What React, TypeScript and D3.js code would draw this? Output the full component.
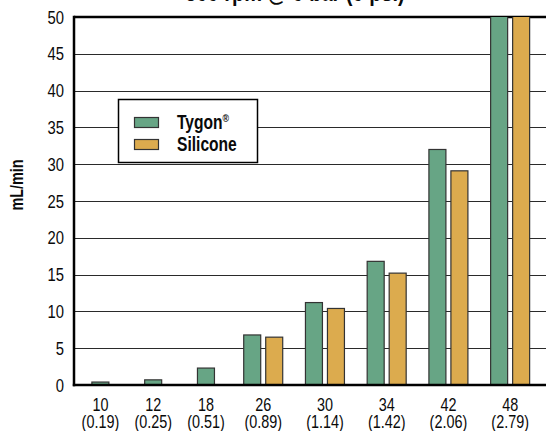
import React from "react";
import * as d3 from "d3";

const title = "300 rpm @ 0 bar (0 psi)";
const speeds = ["10", "12", "18", "26", "30", "34", "42", "48"];
const sublabels = ["(0.19)", "(0.25)", "(0.51)", "(0.89)", "(1.14)", "(1.42)", "(2.06)", "(2.79)"];
const tygon: (number | null)[] = [0.4, 0.7, 2.3, 6.8, 11.2, 16.8, 32.0, 58];
const silicone: (number | null)[] = [null, null, null, 6.5, 10.4, 15.2, 29.1, 56];
const yTicks = [0, 5, 10, 15, 20, 25, 30, 35, 40, 45, 50];
const seriesNames = ["Tygon", "Silicone"];
const colors = ["#67a585", "#dcab4e"];

const W = 546;
const H = 431;
const left = 74;
const top = 17;
const bottom = 385;
const right = 546;

const font = "'Liberation Sans', Arial, sans-serif";
const SX = 0.8;

function T(props: {
  x: number;
  y: number;
  size: number;
  anchor?: string;
  bold?: boolean;
  dy?: string;
  rotate?: number;
  children: React.ReactNode;
}) {
  const { x, y, size, anchor = "start", bold = false, dy, rotate = 0, children } = props;
  return (
    <text
      transform={`translate(${x},${y}) rotate(${rotate}) scale(${SX},1)`}
      dy={dy}
      textAnchor={anchor}
      fontFamily={font}
      fontWeight={bold ? "bold" : "normal"}
      fontSize={size}
      fill="#0a0a0a"
    >
      {children}
    </text>
  );
}

export default function App() {
  const y = d3.scaleLinear().domain([0, 50]).range([bottom, top]);

  // group widths depend on how many bars a group holds
  const counts = speeds.map((_, i) => (tygon[i] != null ? 1 : 0) + (silicone[i] != null ? 1 : 0));
  const weights = counts.map((n) => n + 4.9);
  const cum = [0, ...d3.cumsum(weights)];
  const total = cum[cum.length - 1];
  const x = d3.scaleLinear().domain([0, total]).range([left, 541]);
  const centers = speeds.map((_, i) => x(cum[i] + weights[i] / 2));

  const barW = 17;
  const gap = 5;

  const bars: { key: string; x: number; y: number; h: number; color: string }[] = [];
  speeds.forEach((s, i) => {
    const vals = [tygon[i], silicone[i]];
    const present = vals.map((v, k) => ({ v, k })).filter((d) => d.v != null);
    const n = present.length;
    const groupW = n * barW + (n - 1) * gap;
    present.forEach((d, j) => {
      const bx = centers[i] - groupW / 2 + j * (barW + gap);
      const yt = y(d.v as number);
      bars.push({ key: s + "-" + d.k, x: bx, y: yt, h: bottom - yt, color: colors[d.k] });
    });
  });

  return (
    <svg
      width={W}
      height={H}
      style={{ position: "fixed", left: 0, top: 0, background: "#fff" }}
    >
      <defs>
        <clipPath id="plotClip">
          <rect x={left} y={top} width={right - left} height={bottom - top + 2} />
        </clipPath>
      </defs>
      <rect x={0} y={0} width={W} height={H} fill="#fff" />

      {/* title (mostly clipped off the top, as in the source) */}
      <T x={295} y={0.5} size={25} anchor="middle" bold>
        {title}
      </T>

      {/* gridlines */}
      {yTicks
        .filter((t) => t > 0 && t < 50)
        .map((t) => (
          <line
            key={"g" + t}
            x1={left}
            x2={right}
            y1={Math.round(y(t)) + 0.5}
            y2={Math.round(y(t)) + 0.5}
            stroke="#2a2a2a"
            strokeWidth={1.2}
          />
        ))}
      {/* top frame line */}
      <line x1={left} x2={right} y1={y(50)} y2={y(50)} stroke="#000" strokeWidth={2.5} />

      {/* bars */}
      <g clipPath="url(#plotClip)">
        {bars.map((b) => (
          <rect
            key={b.key}
            x={b.x}
            y={b.y}
            width={barW}
            height={b.h}
            fill={b.color}
            stroke="#333"
            strokeWidth={1.2}
          />
        ))}
      </g>

      {/* axes */}
      <line x1={left} x2={left} y1={top - 1.2} y2={bottom + 1.2} stroke="#000" strokeWidth={2.5} />
      <line x1={left - 1.2} x2={right} y1={bottom} y2={bottom} stroke="#000" strokeWidth={2.5} />

      {/* y tick labels */}
      {yTicks.map((t) => (
        <T key={"yt" + t} x={64} y={y(t)} dy="0.36em" size={18.5} anchor="end">
          {t}
        </T>
      ))}

      {/* x labels */}
      {speeds.map((s, i) => (
        <g key={"xl" + s}>
          <T x={centers[i]} y={411} size={18} anchor="middle">
            {s}
          </T>
          <T x={centers[i]} y={428} size={18} anchor="middle">
            {sublabels[i]}
          </T>
        </g>
      ))}

      {/* y axis title */}
      <T x={23} y={185} size={18} anchor="middle" bold rotate={-90}>
        mL/min
      </T>

      {/* legend */}
      <g>
        <rect x={118.5} y={99.5} width={139} height={63} fill="#fff" stroke="#000" strokeWidth={1.5} />
        {seriesNames.map((name, k) => (
          <g key={"lg" + name}>
            <rect
              x={134.5}
              y={117.5 + k * 22}
              width={24}
              height={10}
              fill={colors[k]}
              stroke="#333"
              strokeWidth={1.2}
            />
            <T x={177} y={128.5 + k * 22} size={19.5} bold>
              {name}
              {k === 0 ? (
                <tspan fontSize={11} dy={-7}>
                  ®
                </tspan>
              ) : null}
            </T>
          </g>
        ))}
      </g>
    </svg>
  );
}
